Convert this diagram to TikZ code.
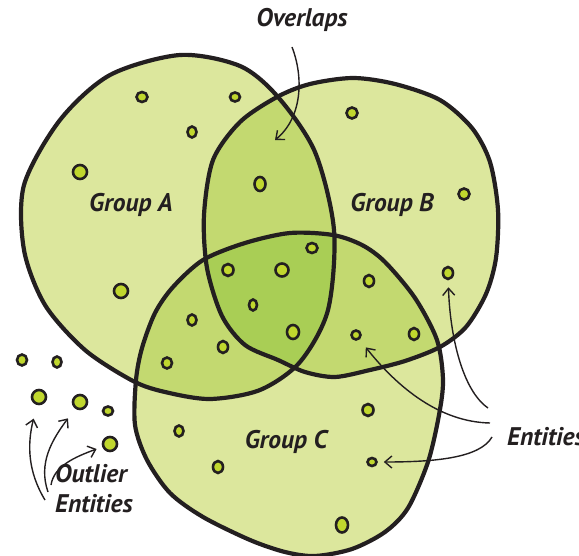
\documentclass[tikz,border=0pt]{standalone}
\usepackage{fontspec}
\setmainfont{PT Sans}
\usetikzlibrary{arrows.meta,shapes.geometric}
\definecolor{setlight}{HTML}{DCE79D}
\definecolor{setmid}{HTML}{C3D970}
\definecolor{setdark}{HTML}{A9CE55}
\definecolor{dotgreen}{HTML}{C0D72E}
\definecolor{ink}{HTML}{231F20}
\tikzset{
  setline/.style={line width=4.2pt,draw=ink,line join=round},
  dot/.style={ellipse,draw=ink,line width=2.6pt,fill=dotgreen,inner sep=0pt},
  settext/.style={font=\fontsize{25.5}{27}\selectfont\bfseries\itshape,text=ink,inner sep=0pt},
  pointer/.style={->,line width=1.4pt,draw=ink}
}
\newcommand\groupA{plot[smooth cycle] coordinates {(180,55) (240,66) (278,97) (315,152) (334,230) (328,310) (300,362) (260,390) (210,399) (165,392) (133,381) (85,350) (45,305) (24,250) (24,185) (60,120) (110,75)}}
\newcommand\groupB{plot[smooth cycle] coordinates {(213,160) (240,122) (277,97) (310,84) (353,78) (395,84) (440,100) (472,128) (490,162) (498,210) (496,258) (486,294) (466,327) (440,347) (405,361) (370,370) (335,377) (305,372) (278,360) (245,345) (222,316) (207,268) (204,215)}}
\newcommand\groupC{plot[smooth cycle] coordinates {(203,260) (245,243) (290,233) (333,235) (362,245) (385,262) (415,298) (437,340) (443,380) (439,415) (428,462) (408,508) (385,532) (352,549) (315,556) (285,552) (250,540) (203,517) (170,493) (147,460) (135,425) (136,380) (142,348) (155,313) (173,287)}}
\begin{document}
\begin{tikzpicture}[x=1pt,y=-1pt,>={Straight Barb[length=7pt,width=12pt]}]
\useasboundingbox (0,0) rectangle (579,556);
% set areas
\fill[setlight] \groupA;
\fill[setlight] \groupB;
\fill[setlight] \groupC;
\begin{scope}
\clip \groupA;
\fill[setmid] \groupB;
\fill[setmid] \groupC;
\end{scope}
\begin{scope}
\clip \groupB;
\fill[setmid] \groupC;
\end{scope}
\begin{scope}
\clip \groupA;
\clip \groupB;
\fill[setdark] \groupC;
\end{scope}
\draw[setline] \groupA;
\draw[setline] \groupB;
\draw[setline] \groupC;
% entities
\node[dot,minimum width=11,minimum height=10] (a1) at (142,97) {};
\node[dot,minimum width=10,minimum height=9] (a2) at (235,97) {};
\node[dot,minimum width=9,minimum height=11] (a3) at (192,132) {};
\node[dot,minimum width=14,minimum height=14] (a4) at (80,172) {};
\node[dot,minimum width=14,minimum height=14] (a5) at (121,291) {};
\node[dot,minimum width=11,minimum height=14] (ab1) at (260,184) {};
\node[dot,minimum width=11,minimum height=11] (b1) at (352,113) {};
\node[dot,minimum width=11,minimum height=11] (b2) at (464,194) {};
\node[dot,minimum width=10,minimum height=12] (b3) at (448,273) {};
\node[dot,minimum width=11,minimum height=12] (abc1) at (228,270) {};
\node[dot,minimum width=13,minimum height=13] (abc2) at (282,270) {};
\node[dot,minimum width=11,minimum height=10] (abc3) at (312,248) {};
\node[dot,minimum width=8,minimum height=11] (abc4) at (253,305) {};
\node[dot,minimum width=12,minimum height=14] (abc5) at (293,332) {};
\node[dot,minimum width=9,minimum height=11] (ac1) at (192,320) {};
\node[dot,minimum width=10,minimum height=12] (ac2) at (223,347) {};
\node[dot,minimum width=10,minimum height=11] (ac3) at (167,363) {};
\node[dot,minimum width=10,minimum height=12] (bc1) at (369,281) {};
\node[dot,minimum width=9,minimum height=9] (bc2) at (356,335) {};
\node[dot,minimum width=10,minimum height=12] (bc3) at (414,334) {};
\node[dot,minimum width=11,minimum height=12] (c1) at (368,410) {};
\node[dot,minimum width=9,minimum height=11] (c2) at (179,431) {};
\node[dot,minimum width=10,minimum height=12] (c3) at (218,467) {};
\node[dot,minimum width=9,minimum height=8] (c4) at (372,462) {};
\node[dot,minimum width=12,minimum height=15] (c5) at (342,525) {};
\node[dot,minimum width=10,minimum height=11] (o1) at (22,360) {};
\node[dot,minimum width=9,minimum height=11] (o2) at (57,362) {};
\node[dot,minimum width=14,minimum height=14] (o3) at (39,397) {};
\node[dot,minimum width=14,minimum height=14] (o4) at (80,402) {};
\node[dot,minimum width=10,minimum height=9] (o5) at (108,411) {};
\node[dot,minimum width=14,minimum height=14] (o6) at (110,444) {};
% labels
\node[settext,anchor=base] (overlaps) at (302,27) {Overlaps};
\node[settext,anchor=base] (grpA) at (131,212) {Group A};
\node[settext,anchor=base] (grpB) at (392,212) {Group B};
\node[settext,anchor=base] (grpC) at (286,448) {Group C};
\node[settext,anchor=base west] (entities) at (507,445) {Entities};
\node[settext,anchor=base west,align=left] (outliers) at (55,512) {Outlier\\[3pt]Entities};
% pointers
\coordinate (ovtail) at (292,47);
\coordinate (ovhead) at (275,140);
\draw[pointer] (ovtail) .. controls (304,78) and (302,118) .. (ovhead);
\coordinate (en1) at (488,408);
\coordinate (en2) at (490,423);
\coordinate (en3) at (492,437);
\draw[pointer,shorten >=7pt] (en1) .. controls (462,390) and (450,335) .. (b3);
\draw[pointer,shorten >=10pt] (en2) .. controls (440,422) and (398,388) .. (bc2);
\draw[pointer,shorten >=6pt] (en3) .. controls (480,458) and (435,462) .. (c4);
\coordinate (ol1) at (45,500);
\coordinate (ol2) at (48,492);
\coordinate (ol3) at (51,485);
\draw[pointer,shorten >=14pt] (ol1) .. controls (28,472) and (27,445) .. (o3);
\draw[pointer,shorten >=12pt] (ol2) .. controls (38,463) and (52,440) .. (o4);
\draw[pointer,shorten >=6pt] (ol3) .. controls (54,466) and (75,457) .. (o6);
\end{tikzpicture}
\end{document}
